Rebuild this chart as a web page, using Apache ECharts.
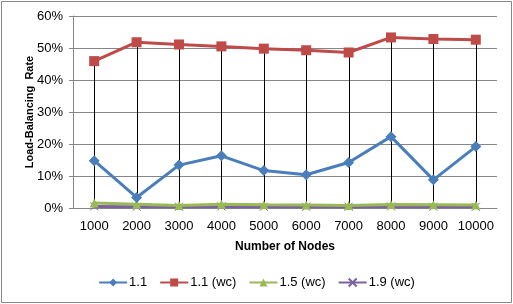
<!DOCTYPE html>
<html><head><meta charset="utf-8">
<script src="https://cdn.jsdelivr.net/npm/echarts@6/dist/echarts.min.js"></script>
<style>html,body{margin:0;padding:0;background:#fff}#c{width:513px;height:304px}</style>
</head><body><div id="c"></div>
<script>
const categories = ['1000','2000','3000','4000','5000','6000','7000','8000','9000','10000'];
const s11   = [14.8, 3.3, 13.4, 16.3, 11.7, 10.4, 14.2, 22.3, 8.8, 19.2];
const s11wc = [45.9, 51.8, 51.1, 50.5, 49.8, 49.3, 48.6, 53.3, 52.8, 52.6];
const s15wc = [1.6, 1.2, 0.8, 1.2, 1.0, 0.9, 0.8, 1.1, 1.0, 0.9];
const s19wc = [0.5, 0.4, 0.4, 0.5, 0.4, 0.4, 0.4, 0.5, 0.4, 0.4];
const yTicks = [0, 10, 20, 30, 40, 50, 60];

const hiLo = categories.map((c, i) => {
  const v = [s11[i], s11wc[i], s15wc[i], s19wc[i]];
  return [i, Math.min(...v), Math.max(...v)];
});

const font = 'Liberation Sans';
const xPath = 'path://M0,0 L10,10 M10,0 L0,10';
const chart = echarts.init(document.getElementById('c'));
chart.setOption({
  animation: false,
  textStyle: { fontFamily: font },
  graphic: [{ type: 'rect', shape: { x: 1.5, y: 1.5, width: 510, height: 301 }, style: { fill: 'none', stroke: '#868686', lineWidth: 1 }, silent: true }],
  grid: { left: 73, right: 16, top: 16, bottom: 96 },
  legend: {
    bottom: 10, left: 'center', itemWidth: 28, itemHeight: 10, itemGap: 12,
    textStyle: { fontFamily: font, fontSize: 13, color: '#000', padding: [0, 0, 0, -3] },
    data: ['1.1', '1.1 (wc)', '1.5 (wc)', '1.9 (wc)']
  },
  xAxis: {
    type: 'category', data: categories, boundaryGap: true,
    name: 'Number of Nodes', nameLocation: 'middle', nameGap: 33,
    nameTextStyle: { fontFamily: font, fontWeight: 'bold', fontSize: 12, color: '#000' },
    axisLine: { lineStyle: { color: '#868686' } },
    axisTick: { show: false },
    axisLabel: { fontFamily: font, fontSize: 13, color: '#000', margin: 12, interval: 0 }
  },
  yAxis: {
    type: 'value', min: 0, max: 60, interval: 10,
    name: 'Load-Balancing  Rate', nameLocation: 'middle', nameGap: 38, nameMoveOverlap: false,
    nameTextStyle: { fontFamily: font, fontWeight: 'bold', fontSize: 11, color: '#000' },
    axisLine: { show: true, lineStyle: { color: '#868686' } },
    axisTick: { show: true, length: 4, inside: false, lineStyle: { color: '#868686' } },
    splitLine: { lineStyle: { color: '#868686' } },
    axisLabel: { fontFamily: font, fontSize: 13, color: '#000', margin: 10,
      formatter: v => yTicks.includes(v) ? v + '%' : '' }
  },
  series: [
    {
      type: 'custom', name: 'hilo', data: hiLo, z: 1, silent: true,
      renderItem: (params, api) => {
        const p1 = api.coord([api.value(0), api.value(1)]);
        const p2 = api.coord([api.value(0), api.value(2)]);
        return { type: 'line', shape: { x1: Math.round(p1[0]) + 0.5, y1: p1[1], x2: Math.round(p2[0]) + 0.5, y2: p2[1] }, style: { stroke: '#000', lineWidth: 1 } };
      },
      encode: { x: 0, y: [1, 2] }
    },
    { name: '1.9 (wc)', type: 'line', data: s19wc, symbol: xPath, symbolSize: 8, z: 2,
      lineStyle: { color: '#7D60A0', width: 3 }, itemStyle: { color: '#7D60A0', borderColor: '#7D60A0', borderWidth: 1 } },
    { name: '1.5 (wc)', type: 'line', data: s15wc, symbol: 'triangle', symbolSize: 9, z: 3,
      lineStyle: { color: '#98B954', width: 3 }, itemStyle: { color: '#98B954' } },
    { name: '1.1 (wc)', type: 'line', data: s11wc, symbol: 'rect', symbolSize: 10, z: 4,
      lineStyle: { color: '#BE4B48', width: 3 }, itemStyle: { color: '#BE4B48' } },
    { name: '1.1', type: 'line', data: s11, symbol: 'diamond', symbolSize: 11, z: 5,
      lineStyle: { color: '#4A7EBB', width: 3 }, itemStyle: { color: '#4A7EBB' } }
  ]
});
</script></body></html>
